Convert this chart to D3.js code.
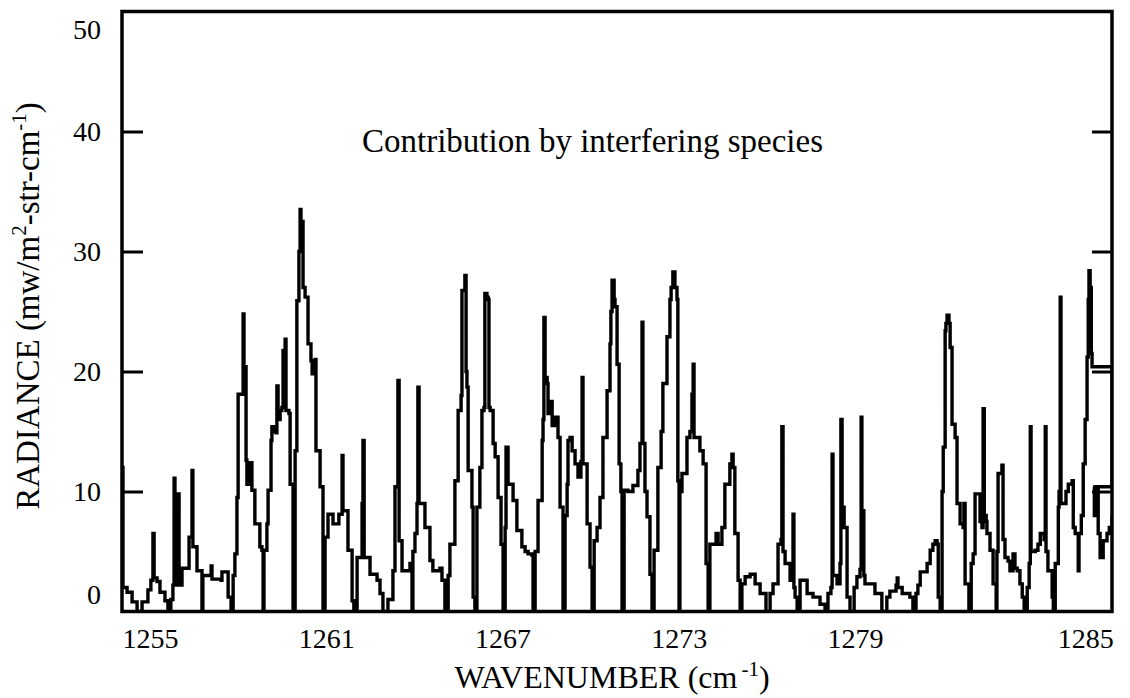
<!DOCTYPE html>
<html><head><meta charset="utf-8">
<script src="https://cdn.jsdelivr.net/npm/d3@7"></script>
<style>
body{margin:0;background:#fff}
svg{display:block}
text{font-family:"Liberation Serif","Times New Roman",serif;fill:#000}
</style>
</head><body>
<svg id="c" width="1130" height="698"></svg>
<script>
const wavenumber = [
1254.05,1254.08,1254.22,1254.39,1254.56,1254.73,1254.93,1255.03,1255.10,1255.14,1255.24,1255.34,1255.51,1255.61,1255.71,1255.78,1255.82,1255.85,1255.92,1255.95,1255.99,1256.09,1256.29,1256.33,1256.40,1256.43,1256.46,1256.60,1256.70,1256.77,1256.80,1257.04,1257.08,1257.11,1257.25,1257.42,1257.45,1257.59,1257.66,1257.76,
1257.83,1257.89,1257.96,1258.00,1258.13,1258.17,1258.20,1258.27,1258.30,1258.37,1258.47,1258.57,1258.68,1258.74,1258.81,1258.85,1258.88,1258.98,1259.02,1259.12,1259.15,1259.22,1259.29,1259.32,1259.36,1259.43,1259.49,1259.53,1259.56,1259.60,1259.63,1259.73,1259.77,1259.83,1259.87,
1259.94,1260.00,1260.07,1260.11,1260.14,1260.17,1260.21,1260.28,1260.38,1260.48,1260.52,1260.62,1260.65,1260.79,1260.86,1260.89,1260.96,1261.06,1261.23,1261.40,1261.43,1261.50,1261.54,1261.57,1261.64,1261.74,1261.88,1261.94,
1262.05,1262.18,1262.22,1262.25,1262.29,1262.32,1262.49,1262.73,1262.83,1262.93,1263.10,1263.27,1263.34,1263.41,1263.44,1263.48,1263.58,1263.75,1263.85,1263.92,1263.95,1264.02,1264.09,1264.12,1264.16,1264.26,1264.36,1264.53,1264.63,1264.87,1264.94,1265.04,
1265.15,1265.21,1265.38,1265.49,1265.59,1265.62,1265.69,1265.72,1265.76,1265.79,1265.83,1265.96,1266.00,1266.06,1266.13,1266.23,1266.30,1266.37,1266.40,1266.47,1266.51,1266.54,1266.58,1266.68,1266.75,1266.85,1266.95,1267.02,
1267.09,1267.12,1267.19,1267.26,1267.36,1267.49,1267.66,1267.77,1267.87,1268.00,1268.04,1268.11,1268.21,1268.35,1268.38,1268.41,1268.45,1268.52,1268.55,1268.62,1268.69,1268.79,1268.89,1268.96,1269.06,
1269.13,1269.20,1269.23,1269.30,1269.37,1269.47,1269.57,1269.67,1269.71,1269.74,1269.88,1269.98,1270.05,1270.12,1270.22,1270.32,1270.42,1270.56,1270.66,1270.69,1270.73,1270.80,1270.83,1270.90,1270.97,1271.03,1271.07,
1271.14,1271.17,1271.27,1271.44,1271.61,1271.68,1271.75,1271.78,1271.85,1271.92,1272.02,1272.09,1272.16,1272.29,1272.40,1272.46,1272.60,1272.70,1272.74,1272.80,1272.87,1272.94,1272.97,1273.01,
1273.04,1273.11,1273.28,1273.38,1273.45,1273.49,1273.52,1273.59,1273.72,1273.83,1273.89,1273.93,1274.00,1274.06,1274.17,1274.27,1274.34,1274.47,1274.57,1274.74,1274.81,1274.85,1274.91,1275.02,1275.09,
1275.15,1275.26,1275.43,1275.60,1275.77,1275.97,1276.11,1276.21,1276.38,1276.48,1276.51,1276.55,1276.62,1276.79,1276.86,1276.89,1276.92,1276.96,1277.03,1277.13,1277.20,1277.37,1277.57,1277.81,1277.98,
1278.08,1278.18,1278.22,1278.25,1278.39,1278.49,1278.52,1278.56,1278.63,1278.73,1278.83,1278.97,1279.05,1279.13,1279.16,1279.18,1279.23,1279.26,1279.39,1279.52,1279.70,
1279.83,1279.91,1279.99,1280.07,1280.10,1280.12,1280.23,1280.36,1280.43,1280.51,1280.59,1280.64,1280.70,1280.80,1280.88,1280.96,1281.03,1281.09,1281.14,1281.17,1281.22,
1281.27,1281.30,1281.35,1281.37,1281.40,1281.45,1281.48,1281.53,1281.61,1281.66,1281.74,1281.82,1281.84,1281.87,1281.97,1282.03,1282.08,1282.13,1282.23,1282.26,1282.31,1282.34,1282.37,1282.42,1282.44,1282.52,1282.60,1282.68,
1282.70,1282.73,1282.81,1282.83,1282.86,1282.91,1282.99,1283.04,1283.12,1283.17,1283.23,1283.30,1283.36,1283.41,1283.49,1283.54,1283.57,1283.59,1283.70,1283.77,1283.83,1283.93,1283.96,1283.98,1284.03,1284.14,1284.17,
1284.22,1284.30,1284.32,1284.35,1284.37,1284.43,1284.50,1284.56,1284.66,1284.69,1284.74,1284.82,1284.84,1284.90,1284.95,1285.00,1285.05,1285.08,1285.10,1285.13,1285.16,1285.18,1285.70,1285.70,1285.21,1285.24,1285.31,1285.34,1285.39,1285.47,1285.57,1285.63,1285.70
];
const radiance = [
12.0,2.0,1.6,0.8,0.0,0.8,1.8,2.6,6.5,2.8,2.5,1.6,0.9,0.0,1.0,2.2,11.1,2.4,2.2,9.8,2.2,3.6,3.6,6.2,6.2,11.75,5.4,3.4,3.4,0.0,3.0,3.0,3.8,2.7,2.7,2.6,3.3,3.3,1.2,0.0,
3.0,4.8,9.5,18.1,18.1,24.8,20.4,12.6,10.6,12.4,10.1,7.3,7.3,5.4,5.1,0.0,5.1,7.3,10.1,14.25,15.4,15.0,14.9,18.8,16.0,16.75,17.0,21.75,18.0,22.7,16.75,16.5,10.6,10.6,0.0,
13.4,25.9,30.0,33.5,31.0,32.5,27.0,26.2,22.3,20.9,19.8,21.0,13.4,10.4,10.4,0.0,6.2,8.1,7.3,7.3,8.1,8.1,13.0,8.4,8.4,5.1,0.9,0.0,
4.5,4.5,9.0,14.25,4.5,4.5,3.1,2.6,1.5,0.0,1.0,3.4,10.4,10.4,19.25,5.9,3.4,3.4,4.0,0.0,5.0,6.5,9.0,18.7,9.0,9.0,7.0,4.25,3.4,3.6,2.6,0.0,
3.0,5.6,10.9,16.75,18.0,26.75,26.75,28.0,20.0,18.7,11.75,8.7,1.2,0.0,8.7,12.0,16.75,17.0,26.5,26.2,26.0,17.0,16.75,14.0,12.9,9.5,5.6,0.0,
7.0,13.7,10.6,10.6,9.25,6.75,5.4,5.0,4.8,4.7,0.0,5.0,9.25,14.25,16.0,24.5,19.5,19.0,16.5,17.5,15.5,16.2,14.5,8.7,0.0,
8.0,10.6,14.25,14.5,13.4,12.3,11.2,12.5,19.5,12.3,7.3,3.7,0.0,5.9,7.0,9.5,14.5,18.4,22.3,25.0,27.6,26.0,25.4,20.6,12.3,10.0,0.0,
10.1,10.1,10.0,10.5,11.75,14.0,24.1,14.0,10.0,7.9,3.1,0.0,5.1,12.0,15.0,19.0,22.9,26.0,27.0,28.3,27.0,26.0,10.9,0.0,
10.0,11.5,14.5,15.0,18.1,20.6,14.5,14.5,13.4,12.3,12.3,4.0,0.0,5.6,5.6,6.5,5.6,7.0,10.6,12.3,13.1,12.0,6.5,2.6,0.0,
2.3,2.9,3.1,2.3,1.5,0.0,1.5,2.3,5.6,6.0,15.4,5.0,4.0,2.6,3.5,8.1,2.0,1.2,0.0,2.6,2.6,1.5,1.2,0.6,0.0,
1.5,2.0,13.1,3.0,2.3,4.0,16.0,8.7,7.0,1.2,0.0,2.0,2.9,3.5,16.2,8.4,3.0,2.3,2.3,1.5,0.0,
1.2,1.7,1.7,2.2,2.8,2.0,1.5,1.5,1.2,0.0,1.5,2.2,3.3,3.3,4.0,5.1,5.6,5.9,5.6,1.2,0.0,
10.0,13.7,23.4,24.0,24.7,24.0,22.0,15.6,14.5,9.0,7.3,7.0,9.0,2.3,0.0,4.0,4.8,9.8,9.8,7.5,7.0,16.9,8.0,7.5,6.5,5.1,2.3,0.0,
5.0,11.5,11.5,12.2,6.0,4.5,4.2,3.4,4.8,3.6,3.4,2.3,1.2,0.0,2.0,4.0,15.4,5.0,5.1,5.6,6.5,6.0,15.4,5.0,3.4,1.2,0.0,
4.0,8.7,10.0,26.2,9.0,9.0,10.0,10.6,10.9,7.0,6.5,3.4,6.5,8.0,12.3,16.0,21.2,26.0,28.4,27.0,21.5,20.4,20.4,10.4,10.4,8.0,10.1,6.5,4.5,5.9,6.5,7.0,8.0
];
const xTickValues = [1255, 1261, 1267, 1273, 1279, 1285];
const yTickValues = [0, 10, 20, 30, 40, 50];
const yInnerTicks = [10, 20, 30, 40];
const titleText = "Contribution by interfering species";

const svg = d3.select("#c");
// axis as printed in the figure: evenly spaced labels up to 1279, wider last interval
const x = d3.scaleLinear().domain([1254.047, 1279, 1285.70]).range([122, 855, 1112]);
const y = d3.scaleLinear().domain([0, 50]).range([611.5, 11.5]);
const xr = x.range();
const x0 = xr[0], x1 = xr[xr.length - 1];
const [yb, yt] = y.range();

svg.append("defs").append("clipPath").attr("id", "clip")
  .append("rect").attr("x", x0).attr("y", yt).attr("width", x1 - x0).attr("height", yb - yt);

const pts = d3.zip(wavenumber, radiance);
const line = d3.line().x(d => x(d[0])).y(d => y(d[1])).curve(d3.curveStepAfter);
svg.append("path").attr("clip-path", "url(#clip)")
  .attr("d", line(pts)).attr("fill", "none").attr("stroke", "#000")
  .attr("stroke-width", 3.4).attr("stroke-linejoin", "miter").attr("stroke-miterlimit", 2);

// frame
svg.append("rect").attr("x", x0).attr("y", yt).attr("width", x1 - x0).attr("height", yb - yt)
  .attr("fill", "none").attr("stroke", "#000").attr("stroke-width", 3.5);

// left axis
const gl = svg.append("g").attr("transform", `translate(${x0},0)`)
  .call(d3.axisLeft(y).tickValues(yTickValues).tickSize(-21).tickPadding(21).tickSizeOuter(0));
gl.select(".domain").remove();
gl.selectAll(".tick line").attr("stroke-width", 3).attr("stroke", "#000")
  .filter(d => !yInnerTicks.includes(d)).remove();
gl.selectAll(".tick text").attr("font-size", 28)
  .attr("dy", d => d === 0 ? "-0.28em" : d === 50 ? "0.95em" : "0.32em");

// right axis
const gr = svg.append("g").attr("transform", `translate(${x1},0)`)
  .call(d3.axisRight(y).tickValues(yInnerTicks).tickSize(-20).tickFormat(""));
gr.select(".domain").remove();
gr.selectAll(".tick line").attr("stroke-width", 3).attr("stroke", "#000");

// bottom axis
const gb = svg.append("g").attr("transform", `translate(0,${yb})`)
  .call(d3.axisBottom(x).tickValues(xTickValues).tickSize(0).tickPadding(17).tickFormat(d3.format("d")));
gb.select(".domain").remove();
gb.selectAll(".tick text").attr("font-size", 28);

// title inside plot
svg.append("text").attr("x", 362).attr("y", 152).attr("font-size", 33).text(titleText);

// x axis title
const xt = svg.append("text").attr("x", 612).attr("y", 688).attr("text-anchor", "middle").attr("font-size", 32);
xt.append("tspan").text("WAVENUMBER (cm");
xt.append("tspan").attr("font-size", 21).attr("dy", -12).attr("dx", 4).text("-1");
xt.append("tspan").attr("dy", 12).text(")");

// y axis title
const yl = svg.append("text").attr("transform", "translate(39,306) rotate(-90)")
  .attr("text-anchor", "middle").attr("font-size", 33);
yl.append("tspan").text("RADIANCE (mw/m");
yl.append("tspan").attr("font-size", 21).attr("dy", -13).text("2");
yl.append("tspan").attr("dy", 13).text("-str-cm");
yl.append("tspan").attr("font-size", 21).attr("dy", -13).text("-1");
yl.append("tspan").attr("dy", 13).text(")");
</script>
</body></html>
